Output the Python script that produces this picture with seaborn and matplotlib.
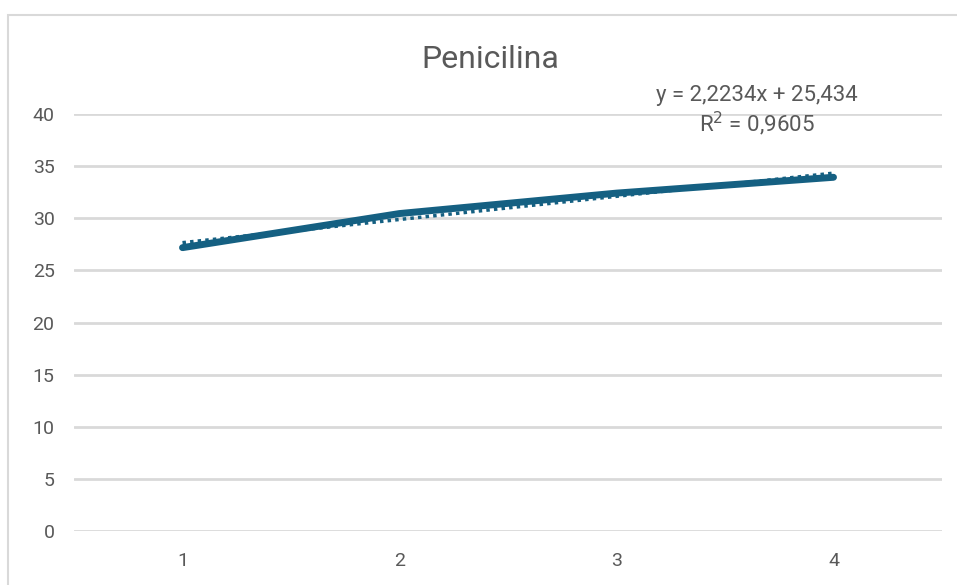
import numpy as np
import pandas as pd
import seaborn as sns
import matplotlib.pyplot as plt
from matplotlib.patches import Rectangle

# Data
x_values = [1, 2, 3, 4]
y_values = [27.18, 30.45, 32.41, 33.93]
y_ticks = [0, 5, 10, 15, 20, 25, 30, 35, 40]
title = "Penicilina"

# Linear trendline coefficients
slope = 2.2234
intercept = 25.434
r_squared = 0.9605

LINE_COLOR = "#156082"
TEXT_COLOR = "#595959"
GRID_COLOR = "#d9d9d9"

sns.set_theme(style="white")
plt.rcParams["font.family"] = ["Roboto", "DejaVu Sans"]

W, H = 957, 585
fig = plt.figure(figsize=(W / 100, H / 100), dpi=100)
fig.patch.set_facecolor("white")

# Chart-area border
fig.add_artist(Rectangle((8 / W, -0.1), 1.2, 1.1 - 15 / H,
                         transform=fig.transFigure, fill=False,
                         edgecolor="#d9d9d9", linewidth=1.5))

ax = fig.add_axes([74 / W, 1 - 531 / H, (942 - 74) / W, (531 - 114) / H])
ax.set_facecolor("white")

df = pd.DataFrame({"x": x_values, "y": y_values})
sns.lineplot(data=df, x="x", y="y", ax=ax, color=LINE_COLOR, linewidth=5,
             solid_capstyle="round", zorder=3)

trend = pd.DataFrame({"x": x_values,
                      "y": [slope * v + intercept for v in x_values]})
sns.lineplot(data=trend, x="x", y="y", ax=ax, color=LINE_COLOR,
             linewidth=2.5, linestyle=(0, (1, 1.2)), zorder=2)

ax.set_xlim(0.5, 4.5)
ax.set_ylim(0, 40)
ax.set_yticks(y_ticks)
ax.set_xticks(x_values)
ax.set_xticklabels([str(v) for v in x_values])
ax.yaxis.grid(True, color=GRID_COLOR, linewidth=2)
ax.xaxis.grid(False)
ax.set_axisbelow(True)
for s in ax.spines.values():
    s.set_visible(False)
ax.tick_params(axis="both", length=0, labelsize=14, labelcolor=TEXT_COLOR)
ax.tick_params(axis="y", pad=14)
ax.tick_params(axis="x", pad=15)
ax.set_xlabel("")
ax.set_ylabel("")

fig.text(490 / W, 1 - 60 / H, title, ha="center", va="center",
         fontsize=23, color=TEXT_COLOR)

eq = f"y = {slope:.4f}x + {intercept:.3f}".replace(".", ",")
r2 = f"R$^2$ = {r_squared:.4f}".replace(".", ",")
fig.text(757 / W, 1 - 95 / H, eq, ha="center", va="center",
         fontsize=16, color=TEXT_COLOR)
fig.text(757 / W, 1 - 124 / H, r2, ha="center", va="center",
         fontsize=16, color=TEXT_COLOR)

fig.savefig("out.png", dpi=100, facecolor="white")
